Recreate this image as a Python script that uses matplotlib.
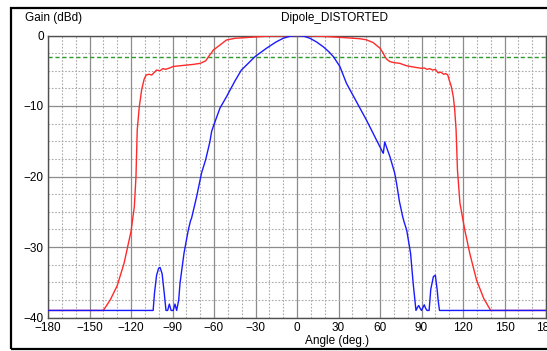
import matplotlib.pyplot as plt
from matplotlib.patches import Rectangle
from matplotlib.ticker import MultipleLocator

plt.rcParams["font.family"] = ["Liberation Sans", "DejaVu Sans"]

# Red trace
red_angle = [-180, -140, -135, -130, -125, -120, -117.6, -116.4, -115.5, -114, -112.3,
             -110.5, -109, -107, -105, -103, -101.5, -99, -97, -95, -92, -89.5, -85, -80,
             -75, -70, -66, -64, -62, -60.5, -58, -55.7, -51, -45, -34, -22, -10, 0,
             10, 22, 34, 45, 50, 55, 60, 62, 63.6, 65, 67.2, 70, 74.3, 79.3, 85, 90, 92,
             94, 96, 98, 100, 102, 104, 106, 107.5, 109, 110, 111.5, 113, 114, 115, 116,
             117.8, 121.3, 125, 129.8, 135, 140, 180]
red_gain = [-39, -39, -37.5, -35.5, -32.3, -27.8, -24.3, -20, -13.4, -10.1, -7.7,
            -6.2, -5.6, -5.5, -5.6, -5.2, -4.9, -5.0, -4.7, -4.8, -4.6, -4.4, -4.3, -4.2,
            -4.1, -3.95, -3.6, -3.0, -2.5, -2.06, -1.7, -1.35, -0.64, -0.4, -0.26, -0.1, -0.05, 0,
            -0.05, -0.15, -0.3, -0.45, -0.6, -1.0, -1.8, -2.4, -3.0, -3.4, -3.7, -3.85, -3.95, -4.3, -4.5, -4.65, -4.6,
            -4.8, -4.7, -4.9, -4.8, -5.3, -5.2, -5.5, -5.4, -5.6, -6.3, -7.2, -8.7, -10.5, -13.4, -19.1,
            -23.8, -27.6, -31, -34.7, -37.3, -39, -39]

# Blue trace
blue_angle = [-180, -104, -103, -101.5, -100, -99, -97.5, -96, -94.7, -93.5, -92.3, -91,
              -89.5, -88.2, -87, -85.5, -84.6, -81.7, -78.6, -77, -76.2, -72.6, -69, -66,
              -63, -61.7, -60.5, -55.7, -51, -45, -40.2, -35, -30.4, -22, -15, -10, -5, 0,
              5, 9.4, 14, 19, 23, 26.3, 31, 35.8, 43, 50.2, 57.4, 61.8, 62.4, 63.4, 65, 67.2,
              70.6, 72, 74, 76.4, 77.5, 79.3, 82.1, 84, 86, 87, 88, 89, 90, 91, 92, 93, 94,
              95.5, 96.7, 98.6, 100, 101.3, 102, 103, 180]
blue_gain = [-39, -39, -36.5, -34, -33, -32.9, -33.8, -36.5, -39, -39, -38.1, -39,
             -39, -38.1, -39, -37.5, -35.2, -30.9, -27.6, -26.3, -25.9, -22.9, -19.5, -17.6,
             -15.1, -13.6, -12.9, -10.3, -8.7, -6.5, -4.9, -3.9, -3.0, -1.8, -0.9, -0.4, -0.1, 0,
             -0.1, -0.4, -0.9, -1.6, -2.3, -3.0, -4.4, -6.8, -9.4, -12, -14.8, -16.5, -16.7, -15.1, -16.0, -17.2,
             -19.5, -21, -23.5, -25.7, -26.5, -27.6, -30.9, -35.2, -39, -38.6, -38.3, -38.7, -39, -38.6, -38.2, -38.7, -39,
             -39, -36, -34.2, -34, -36, -37.5, -39, -39]

ref_level = -3
x_ticks = list(range(-180, 181, 30))
y_ticks = [0, -10, -20, -30, -40]

fig = plt.figure(figsize=(5.47, 3.51), dpi=100)
fig.patch.set_facecolor("white")
ax = fig.add_axes([48 / 547, 33.5 / 351, 498 / 547, 282 / 351])

ax.plot(red_angle, red_gain, color="#ff2a2a", lw=1.0, zorder=3)
ax.plot(blue_angle, blue_gain, color="#1a1aff", lw=1.0, zorder=4)
ax.axhline(ref_level, color="#2e9a2e", lw=1.0, ls=(0, (3, 2)), zorder=2)

ax.set_xlim(-180, 180)
ax.set_ylim(-40, 0)
ax.set_xticks(x_ticks)
ax.set_yticks(y_ticks)
ax.xaxis.set_minor_locator(MultipleLocator(10))
ax.yaxis.set_minor_locator(MultipleLocator(2.5))
ax.grid(which="major", color="#8c8c8c", lw=0.9, ls="-")
ax.grid(which="minor", color="#ababab", lw=0.8, ls=(0, (1.5, 1.5)))
ax.tick_params(which="both", length=0, labelsize=8.5, pad=3)
for s in ax.spines.values():
    s.set_color("#505050")
    s.set_linewidth(1.0)

fig.text(25 / 547, 1 - 18 / 351, "Gain (dBd)", fontsize=8.5, va="center", ha="left")
fig.text(335 / 547, 1 - 18 / 351, "Dipole_DISTORTED", fontsize=8.5, va="center", ha="center")
fig.text(337 / 547, 1 - 341 / 351, "Angle (deg.)", fontsize=8.5, va="center", ha="center")

# outer frame
fig.patches.append(Rectangle((10.5 / 547, 2.5 / 351), 545 / 547, 340.5 / 351,
                             transform=fig.transFigure, fill=False, ec="black", lw=1.6))

fig.savefig("out.png", dpi=100)
